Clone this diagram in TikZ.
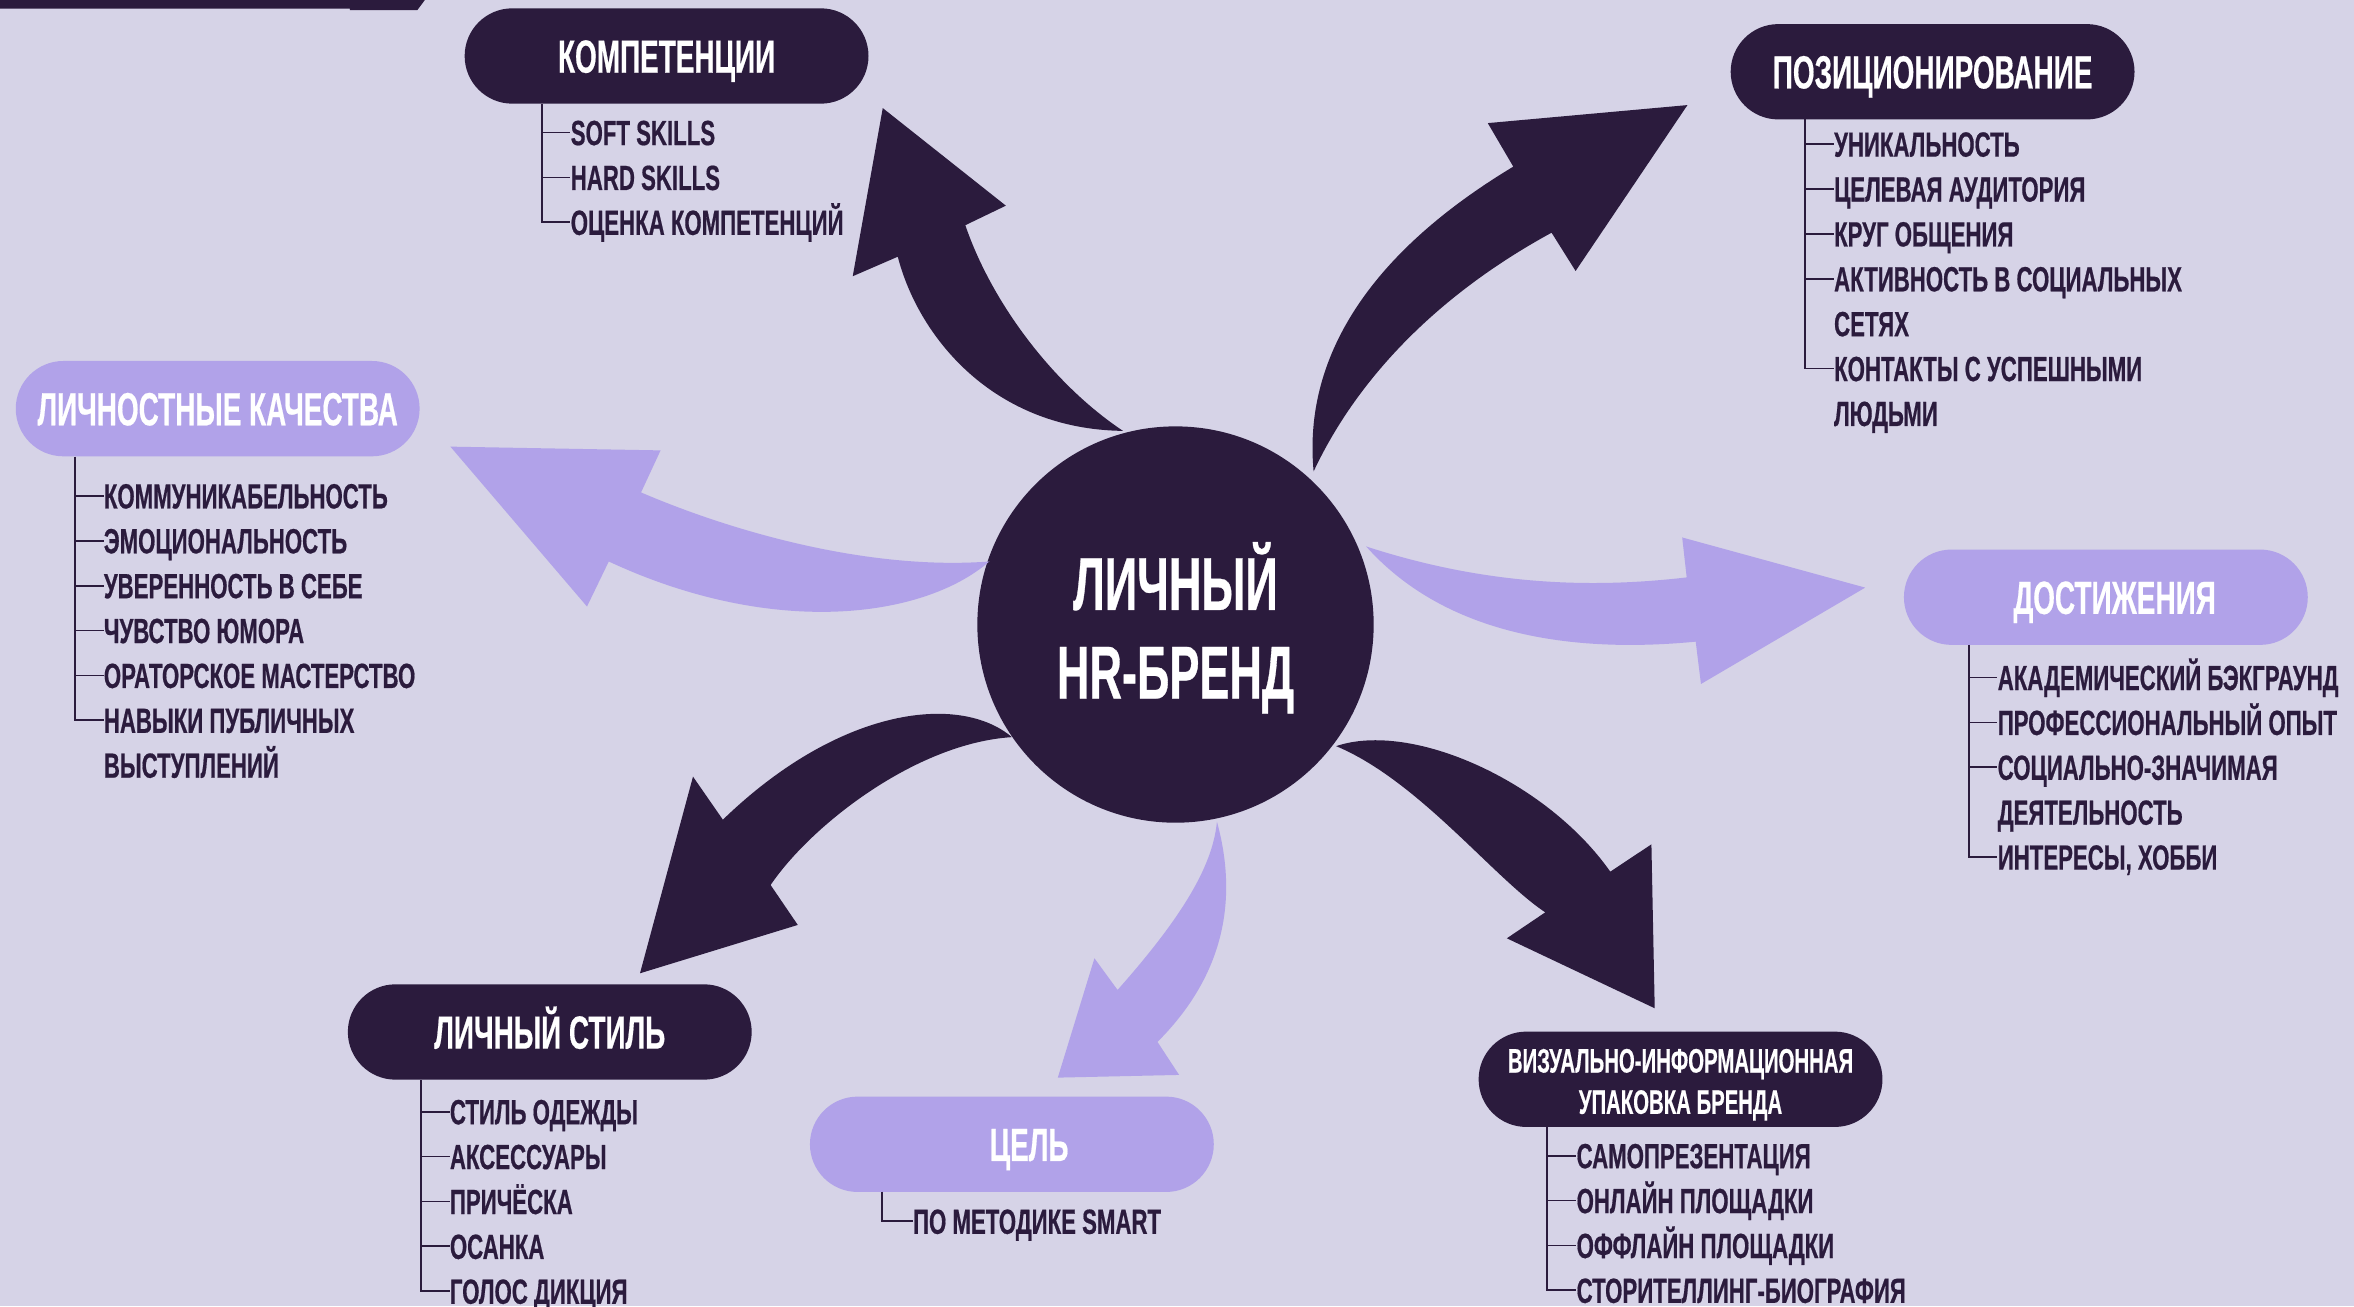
\documentclass[tikz,border=0pt]{standalone}
\usepackage{fontspec}
\newfontfamily\bb[FakeStretch=0.6,FakeBold=0.4]{Liberation Sans}
\newfontfamily\bbi[FakeStretch=0.635,FakeBold=0.5]{Liberation Sans}
\definecolor{bgc}{RGB}{214,211,231}
\definecolor{darkc}{RGB}{43,27,61}
\definecolor{lightc}{RGB}{177,162,233}
\begin{document}
\begin{tikzpicture}[x=1pt,y=-1pt,
  pill/.style={rounded corners=31.75pt, minimum width=269pt, minimum height=63.5pt, inner sep=0pt, text=white,
    font=\bb\bfseries\fontsize{31}{36}\selectfont, text height=22.2pt, text depth=0pt},
  darkpill/.style={pill, fill=darkc},
  lightpill/.style={pill, fill=lightc},
  item/.style={anchor=west, inner sep=0pt, text=darkc, font=\bbi\bfseries\fontsize{23.3}{28}\selectfont,
    text height=16.7pt, text depth=0pt},
  conn/.style={draw=darkc, line width=1.2pt},
  hrtext/.style={anchor=base, inner sep=0pt, text=white, font=\bb\bfseries\fontsize{50}{59}\selectfont},
  darkarrow/.style={fill=darkc},
  lightarrow/.style={fill=lightc}]
\useasboundingbox (0,0) rectangle (1568,870);
\fill[bgc] (0,0) rectangle (1568,870);
% top-left bar
\fill[darkc] (0,0) -- (283,0) -- (278,6.7) -- (233,6.7) -- (233,5.8) -- (0,5.8) -- cycle;

% centre
\node[circle, fill=darkc, minimum size=264pt, inner sep=0pt] (hr) at (783,416) {};

% arrows
\fill[darkarrow] (748,287) .. controls (700,255) and (660,200) .. (643,150) -- (670,137) -- (588,72) -- (568,184) -- (598,171) .. controls (612,225) and (662,286) .. cycle;
\fill[darkarrow] (875,314) .. controls (868,240) and (910,170) .. (1008,111) -- (991,82) -- (1124,70) -- (1049.5,180.5) -- (1033.5,155) .. controls (960,195) and (905,250) .. cycle;
\fill[lightarrow] (659,374) .. controls (580,380) and (490,355) .. (427,328) -- (440,300) -- (300,297.5) -- (391,404) -- (405.5,374) .. controls (515,425) and (615,412) .. cycle;
\fill[lightarrow] (910,364) .. controls (990,390) and (1060,392) .. (1123.5,384.6) -- (1120.5,358) -- (1242.4,391.4) -- (1133,455.6) -- (1129.5,427.4) .. controls (1040,436) and (960,420) .. cycle;
\fill[darkarrow] (674,491) .. controls (640,462) and (560,470) .. (481.5,546) -- (461.6,517.3) -- (426.3,648.3) -- (531.4,616.1) -- (513.3,589.5) .. controls (540,550) and (610,495) .. cycle;
\fill[lightarrow] (810.6,547.3) .. controls (825,600) and (815,650) .. (771,694) -- (785.4,716) -- (704.6,717.8) -- (729,638.3) -- (744.4,659.4) .. controls (790,608) and (808,575) .. cycle;
\fill[darkarrow] (890,497) .. controls (940,480) and (1030,520) .. (1072.6,580.6) -- (1100,562.4) -- (1102.2,671.6) -- (1003.7,625) -- (1029.3,607.7) .. controls (995,585) and (945,520) .. cycle;

\node[hrtext] (hr1) at (783,406.3) {ЛИЧНЫЙ};
\node[hrtext] (hr2) at (783,465.3) {HR-БРЕНД};

% Компетенции
\node[darkpill] (kp) at (444,37.3) {КОМПЕТЕНЦИИ};
\coordinate (kv) at (361,69.3);
\node[item] (k1) at (380,88.3) {SOFT SKILLS};
\node[item] (k2) at (380,118.2) {HARD SKILLS};
\node[item] (k3) at (380,148.1) {ОЦЕНКА КОМПЕТЕНЦИЙ};
\draw[conn] (kv) |- (k3.west);
\foreach \n in {k1,k2} \draw[conn] (\n.west -| kv) -- (\n.west);

% Позиционирование
\node[darkpill] (pp) at (1287.3,47.8) {ПОЗИЦИОНИРОВАНИЕ};
\coordinate (pv) at (1202.5,78.8);
\node[item] (p1) at (1221.5,96) {УНИКАЛЬНОСТЬ};
\node[item] (p2) at (1221.5,125.9) {ЦЕЛЕВАЯ АУДИТОРИЯ};
\node[item] (p3) at (1221.5,155.8) {КРУГ ОБЩЕНИЯ};
\node[item] (p4) at (1221.5,185.7) {АКТИВНОСТЬ В СОЦИАЛЬНЫХ};
\node[item] (p4b) at (1221.5,215.6) {СЕТЯХ};
\node[item] (p5) at (1221.5,245.5) {КОНТАКТЫ С УСПЕШНЫМИ};
\node[item] (p5b) at (1221.5,275.4) {ЛЮДЬМИ};
\draw[conn] (pv) |- (p5.west);
\foreach \n in {p1,p2,p3,p4} \draw[conn] (\n.west -| pv) -- (\n.west);

% Личностные качества
\node[lightpill] (lp) at (145,272.2) {ЛИЧНОСТНЫЕ КАЧЕСТВА};
\coordinate (lv) at (50,304.2);
\node[item] (l1) at (69,330.3) {КОММУНИКАБЕЛЬНОСТЬ};
\node[item] (l2) at (69,360.2) {ЭМОЦИОНАЛЬНОСТЬ};
\node[item] (l3) at (69,390.1) {УВЕРЕННОСТЬ В СЕБЕ};
\node[item] (l4) at (69,420) {ЧУВСТВО ЮМОРА};
\node[item] (l5) at (69,449.9) {ОРАТОРСКОЕ МАСТЕРСТВО};
\node[item] (l6) at (69,479.8) {НАВЫКИ ПУБЛИЧНЫХ};
\node[item] (l6b) at (69,509.7) {ВЫСТУПЛЕНИЙ};
\draw[conn] (lv) |- (l6.west);
\foreach \n in {l1,l2,l3,l4,l5} \draw[conn] (\n.west -| lv) -- (\n.west);

% Достижения
\node[lightpill] (dp) at (1402.7,397.8) {\hspace*{11.6pt}ДОСТИЖЕНИЯ};
\coordinate (dv) at (1311.5,429.6);
\node[item] (d1) at (1330.5,451.3) {АКАДЕМИЧЕСКИЙ БЭКГРАУНД};
\node[item] (d2) at (1330.5,481.2) {ПРОФЕССИОНАЛЬНЫЙ ОПЫТ};
\node[item] (d3) at (1330.5,511.1) {СОЦИАЛЬНО-ЗНАЧИМАЯ};
\node[item] (d3b) at (1330.5,541) {ДЕЯТЕЛЬНОСТЬ};
\node[item] (d4) at (1330.5,570.9) {ИНТЕРЕСЫ, ХОББИ};
\draw[conn] (dv) |- (d4.west);
\foreach \n in {d1,d2,d3} \draw[conn] (\n.west -| dv) -- (\n.west);

% Личный стиль
\node[darkpill] (sp) at (366.2,687.4) {ЛИЧНЫЙ СТИЛЬ};
\coordinate (sv) at (280.5,719.4);
\node[item] (s1) at (299.5,740.5) {СТИЛЬ ОДЕЖДЫ};
\node[item] (s2) at (299.5,770.4) {АКСЕССУАРЫ};
\node[item] (s3) at (299.5,800.3) {ПРИЧЁСКА};
\node[item] (s4) at (299.5,830.2) {ОСАНКА};
\node[item] (s5) at (299.5,860.1) {ГОЛОС ДИКЦИЯ};
\draw[conn] (sv) |- (s5.west);
\foreach \n in {s1,s2,s3,s4} \draw[conn] (\n.west -| sv) -- (\n.west);

% Цель
\node[lightpill] (cp) at (674,762.2) {\hspace*{23pt}ЦЕЛЬ};
\coordinate (cv) at (587.5,793.8);
\node[item] (c1) at (608,813.5) {ПО МЕТОДИКЕ SMART};
\draw[conn] (cv) |- (c1.west);

% Визуально-информационная упаковка
\node[darkpill, align=center, text height=, text depth=, font=\bb\bfseries\fontsize{22.6}{27.5}\selectfont] (vp) at (1119.4,718.9) {\rule{0pt}{23pt}ВИЗУАЛЬНО-ИНФОРМАЦИОННАЯ\\УПАКОВКА БРЕНДА};
\coordinate (vv) at (1030.5,750.5);
\node[item] (v1) at (1050,769.8) {САМОПРЕЗЕНТАЦИЯ};
\node[item] (v2) at (1050,799.7) {ОНЛАЙН ПЛОЩАДКИ};
\node[item] (v3) at (1050,829.6) {ОФФЛАЙН ПЛОЩАДКИ};
\node[item] (v4) at (1050,859.5) {СТОРИТЕЛЛИНГ-БИОГРАФИЯ};
\draw[conn] (vv) |- (v4.west);
\foreach \n in {v1,v2,v3} \draw[conn] (\n.west -| vv) -- (\n.west);
\end{tikzpicture}
\end{document}
